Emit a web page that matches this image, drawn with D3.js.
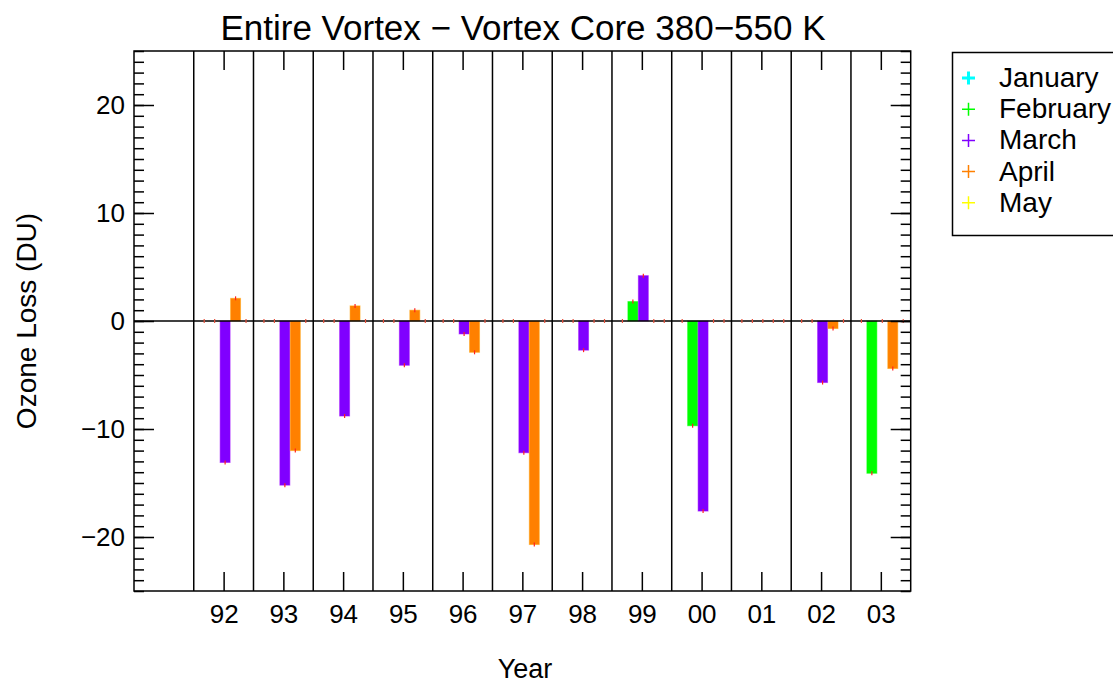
<!DOCTYPE html>
<html lang="en">
  <head>
    <meta charset="utf-8">
    <title>Entire Vortex - Vortex Core 380-550 K</title>
    <style>
      body { margin: 0; background: #fff; }
      svg { font-family: "Liberation Sans", Arial, sans-serif; }
    </style>
  </head>
  <body>
    <svg width="1113" height="682"></svg>

    <script src="https://d3js.org/d3.v7.min.js"></script>
    <script>

    // years on the axis, and what is printed under them
    var years = [92, 93, 94, 95, 96, 97, 98, 99, 100, 101, 102, 103];
    var yearLabels = ["92", "93", "94", "95", "96", "97", "98", "99", "00", "01", "02", "03"];

    var months = ["January", "February", "March", "April", "May"];
    var monthColors = ["#00ffff", "#00ff00", "#8000ff", "#ff8000", "#ffff00"];

    // ozone loss (DU) per year, one array per month; null = no value
    var january  = [null, null, null, null, null, null, null, null, null, null, null, null];
    var february = [null, null, null, null, null, null, null, 1.8, -9.7, null, null, -14.1];
    var march    = [-13.1, -15.2, -8.8, -4.1, -1.2, -12.2, -2.7, 4.2, -17.6, null, -5.7, null];
    var april    = [2.1, -12.0, 1.4, 1.0, -2.9, -20.7, null, null, null, null, -0.7, -4.4];
    var may      = [null, null, null, null, null, null, null, null, null, null, null, null];

    var yTicks = [-20, -10, 0, 10, 20];

    var series = [january, february, march, april, may];
    // where each month sits inside its year slot
    var monthOffset = [-0.325, -0.15, 0.025, 0.2, 0.375];

    var svg = d3.select("svg");
    var pLeft = 134, pRight = 910.7, pTop = 51, pBottom = 591;
    var font = "Liberation Sans, Arial, sans-serif";

    var x = d3.scaleLinear().domain([90.5, 103.5]).range([pLeft, pRight]);
    var y = d3.scaleLinear().domain([-25, 25]).range([pBottom, pTop]);
    var barW = x(90.5 + 0.167) - x(90.5);

    // year separators
    svg.append("g").selectAll("line")
        .data(years.map(function(d) { return d - 0.5; }))
      .enter().append("line")
        .attr("x1", function(d) { return x(d); })
        .attr("x2", function(d) { return x(d); })
        .attr("y1", pTop).attr("y2", pBottom)
        .attr("stroke", "#000").attr("stroke-width", 1.5);

    // bars
    var bars = [];
    series.forEach(function(s, m) {
      s.forEach(function(v, i) {
        bars.push({ m: m, year: years[i], v: v });
      });
    });

    svg.append("g").selectAll("rect")
        .data(bars.filter(function(d) { return d.v !== null; }))
      .enter().append("rect")
        .attr("x", function(d) { return x(d.year + monthOffset[d.m]) - barW / 2; })
        .attr("width", barW)
        .attr("y", function(d) { return y(Math.max(0, d.v)); })
        .attr("height", function(d) { return Math.abs(y(d.v) - y(0)); })
        .attr("fill", function(d) { return monthColors[d.m]; })
        .attr("stroke", function(d) { return d3.color(monthColors[d.m]).brighter(0.6); })
        .attr("stroke-opacity", 0.5)
        .attr("stroke-width", 1);

    // zero line
    svg.append("line")
        .attr("x1", pLeft).attr("x2", pRight)
        .attr("y1", y(0)).attr("y2", y(0))
        .attr("stroke", "#000").attr("stroke-width", 1.5);

    // small red error marks at bar ends (and at zero where there is no value)
    svg.append("g").selectAll("line")
        .data(bars)
      .enter().append("line")
        .attr("x1", function(d) { return x(d.year + monthOffset[d.m]); })
        .attr("x2", function(d) { return x(d.year + monthOffset[d.m]); })
        .attr("y1", function(d) { return y(d.v === null ? 0 : d.v) - 2; })
        .attr("y2", function(d) { return y(d.v === null ? 0 : d.v) + 2; })
        .attr("stroke", function(d) { return d.v === null ? "#e8503a" : "#ff2020"; })
        .attr("stroke-width", 1.2);

    // axes, ticks pointing inward
    function yAxisMinor(g, side) {
      var ax = side === "left" ? d3.axisLeft(y) : d3.axisRight(y);
      g.call(ax.tickValues(d3.range(-25, 26, 1)).tickSize(-10).tickFormat(""))
        .call(function(g) { g.select(".domain").remove(); });
    }
    svg.append("g").attr("transform", "translate(" + pLeft + ",0)").call(yAxisMinor, "left");
    svg.append("g").attr("transform", "translate(" + pRight + ",0)").call(yAxisMinor, "right");

    svg.append("g").attr("transform", "translate(" + pLeft + ",0)")
        .call(d3.axisLeft(y).tickValues(yTicks).tickSize(-20).tickPadding(9)
          .tickFormat(function(d) { return d < 0 ? "\u2212" + Math.abs(d) : d; }))
        .call(function(g) { g.select(".domain").remove(); })
        .selectAll("text").attr("font-size", 26).attr("fill", "#000").attr("font-family", font);
    svg.append("g").attr("transform", "translate(" + pRight + ",0)")
        .call(d3.axisRight(y).tickValues(yTicks).tickSize(-20).tickFormat(""))
        .call(function(g) { g.select(".domain").remove(); });

    svg.append("g").attr("transform", "translate(0," + pBottom + ")")
        .call(d3.axisBottom(x).tickValues(years).tickSize(-19).tickPadding(14)
          .tickFormat(function(d, i) { return yearLabels[i]; }))
        .call(function(g) { g.select(".domain").remove(); })
        .selectAll("text").attr("font-size", 26).attr("fill", "#000").attr("font-family", font);
    svg.append("g").attr("transform", "translate(0," + pTop + ")")
        .call(d3.axisTop(x).tickValues(years).tickSize(-19).tickFormat(""))
        .call(function(g) { g.select(".domain").remove(); });

    svg.selectAll(".tick line").attr("stroke", "#000").attr("stroke-width", 1.5);

    // frame
    svg.append("rect")
        .attr("x", pLeft).attr("y", pTop)
        .attr("width", pRight - pLeft).attr("height", pBottom - pTop)
        .attr("fill", "none").attr("stroke", "#000").attr("stroke-width", 1.5);

    // titles
    svg.append("text")
        .attr("x", 523).attr("y", 40)
        .attr("text-anchor", "middle").attr("font-size", 35)
        .text("Entire Vortex \u2212 Vortex Core 380\u2212550 K");

    svg.append("text")
        .attr("x", 525).attr("y", 678)
        .attr("text-anchor", "middle").attr("font-size", 27)
        .text("Year");

    svg.append("text")
        .attr("transform", "translate(36," + ((pTop + pBottom) / 2) + ") rotate(-90)")
        .attr("text-anchor", "middle").attr("font-size", 28)
        .text("Ozone Loss (DU)");

    // legend
    var legend = svg.append("g");
    legend.append("rect")
        .attr("x", 952.5).attr("y", 52.5)
        .attr("width", 170).attr("height", 183)
        .attr("fill", "#fff").attr("stroke", "#000").attr("stroke-width", 1.5);

    var item = legend.selectAll("g.item")
        .data(months)
      .enter().append("g")
        .attr("class", "item")
        .attr("transform", function(d, i) { return "translate(0," + (78 + i * 31.2) + ")"; });

    item.append("path")
        .attr("d", "M962,0H975M968.5,-6.5V6.5")
        .attr("stroke", function(d, i) { return monthColors[i]; })
        .attr("stroke-width", function(d, i) { return i === 0 ? 3 : 1.5; })
        .attr("fill", "none");

    item.append("text")
        .attr("x", 999).attr("y", 9)
        .attr("font-size", 28)
        .text(function(d) { return d; });

    </script>
  </body>
</html>
